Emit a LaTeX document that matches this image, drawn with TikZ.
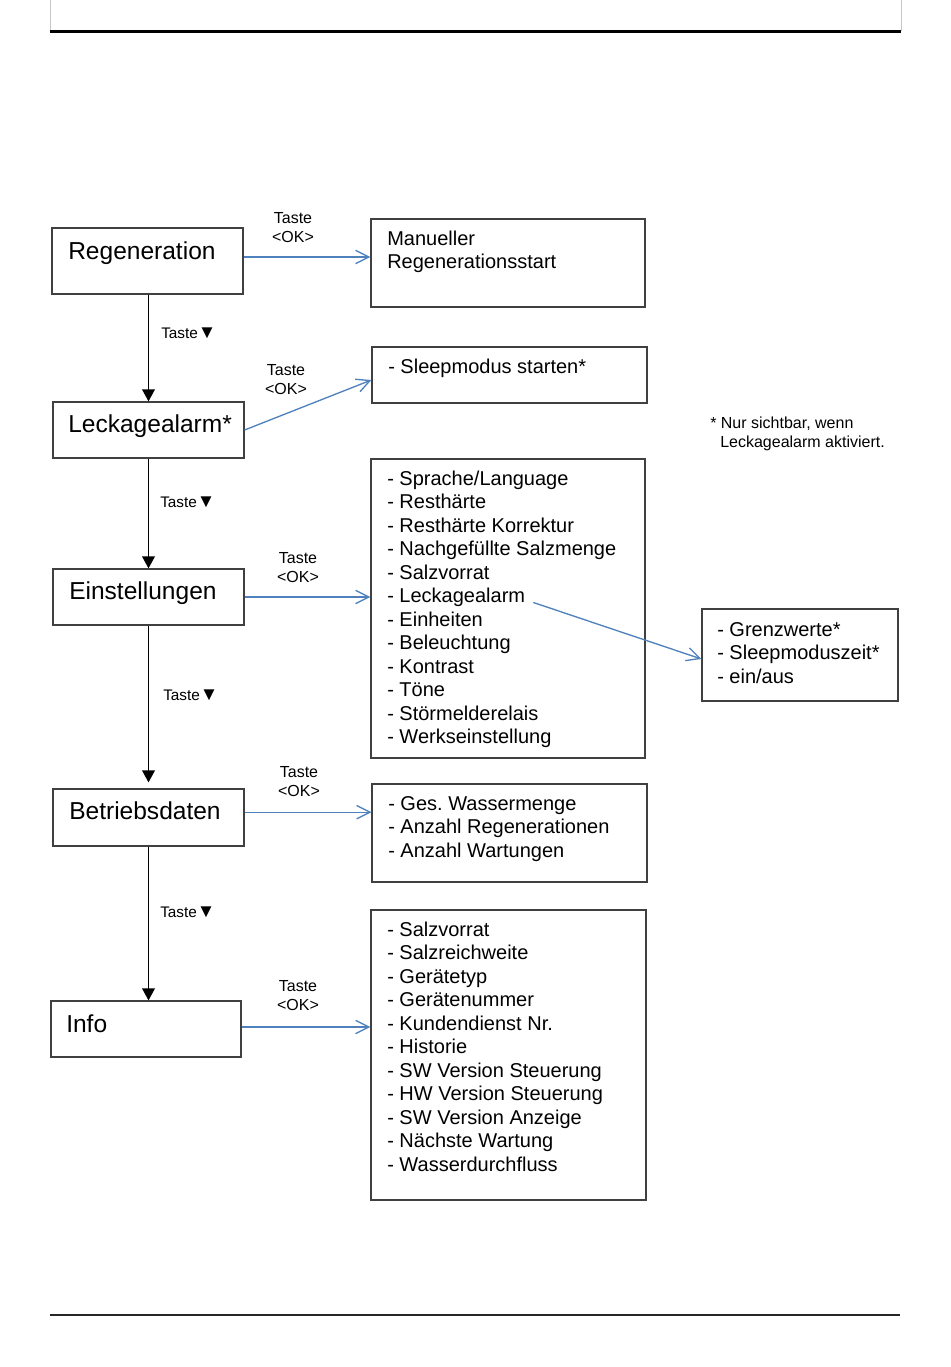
\documentclass[tikz,border=0pt]{standalone}
\usepackage{fontspec}
\setmainfont{Liberation Sans}
\usetikzlibrary{arrows.meta,fit}
\definecolor{okblue}{HTML}{4F81BD}
\definecolor{boxline}{HTML}{404040}
\frenchspacing
\newcommand\tastedown{Taste{\fontsize{14pt}{14pt}\selectfont▼}}
\begin{document}
\begin{tikzpicture}[x=0.75pt,y=-0.75pt,
  box/.style={draw=boxline, line width=0.9pt, inner sep=0pt},
  title/.style={anchor=base west, inner sep=0pt, font=\fontsize{18.4pt}{22pt}\selectfont},
  item/.style={anchor=base west, inner sep=0pt, font=\fontsize{15pt}{18pt}\selectfont},
  tdown/.style={anchor=base west, inner sep=0pt, font=\fontsize{11.5pt}{13pt}\selectfont},
  tok/.style={align=center, inner sep=0pt, font=\fontsize{12pt}{14.25pt}\selectfont},
  note/.style={anchor=base west, inner sep=0pt, font=\fontsize{12pt}{14pt}\selectfont},
  down/.style={draw=black, line width=1.1pt, -{Triangle[width=9.5pt,length=9pt]}},
  okarrow/.style={draw=okblue, line width=1pt, -{Straight Barb[length=10pt,width=10pt,line width=1pt]}}
]
\useasboundingbox (0,0) rectangle (950,1367);

% header / footer
\draw[gray!45, line width=0.5pt] (50,-2) -- (50,31) (901,-2) -- (901,31);
\draw[line width=2.2pt] (50,31.5) -- (901,31.5);
\draw[black!85, line width=1.6pt] (50,1315) -- (900,1315);

% left boxes
\node[box, fit={(52,228) (243,294)}] (reg) {};
\node[box, fit={(53,402) (244,458)}] (leck) {};
\node[box, fit={(53,569) (244,625)}] (einst) {};
\node[box, fit={(53,789) (244,846)}] (betr) {};
\node[box, fit={(51,1001) (241,1057)}] (info) {};

\node[title] (treg) at (68,259) {Regeneration};
\node[title] (tleck) at (68,432) {Leckagealarm*};
\node[title] (teinst) at (69,599) {Einstellungen};
\node[title] (tbetr) at (69,819) {Betriebsdaten};
\node[title] (tinfo) at (66,1032) {Info};

% right boxes
\node[box, fit={(371,219) (645,307)}] (man) {};
\node[box, fit={(372,347) (647,403)}] (sleep) {};
\node[box, fit={(371,459) (645,758)}] (elist) {};
\node[box, fit={(702,609) (898,701)}] (grenz) {};
\node[box, fit={(372,784) (647,882)}] (blist) {};
\node[box, fit={(371,910) (646,1200)}] (ilist) {};

\node[item] (m1) at (387,245.5) {Manueller};
\node[item] (m2) at (387,268.5) {Regenerationsstart};
\node[item] (s1) at (388,373.5) {- Sleepmodus starten*};

\foreach \t [count=\i] in {Sprache/Language,Resthärte,Resthärte Korrektur,Nachgefüllte Salzmenge,Salzvorrat,Leckagealarm,Einheiten,Beleuchtung,Kontrast,Töne,Störmelderelais,Werkseinstellung}
  \node[item] (e\i) at (387,{485+(\i-1)*23.5}) {- \t};

\foreach \t [count=\i] in {Grenzwerte*,Sleepmoduszeit*,ein/aus}
  \node[item] (g\i) at (717,{636+(\i-1)*23.5}) {- \t};

\foreach \t [count=\i] in {Ges. Wassermenge,Anzahl Regenerationen,Anzahl Wartungen}
  \node[item] (b\i) at (388,{810+(\i-1)*23.5}) {- \t};

\foreach \t [count=\i] in {Salzvorrat,Salzreichweite,Gerätetyp,Gerätenummer,Kundendienst Nr.,Historie,SW Version Steuerung,HW Version Steuerung,SW Version Anzeige,Nächste Wartung,Wasserdurchfluss}
  \node[item] (i\i) at (387,{936+(\i-1)*23.5}) {- \t};

% footnote
\node[note] (fn1) at (710,428) {* Nur sichtbar, wenn};
\node[note] (fn2) at (720,447) {Leckagealarm aktiviert.};

% black arrows
\draw[down] (reg.south -| leck.north) -- (leck.north);
\draw[down] (einst.north |- leck.south) -- (einst.north);
\draw[down, shorten >=4.5pt] (betr.north |- einst.south) -- (betr.north);
\draw[down] (betr.south) -- (betr.south |- info.north);

\node[tdown] (td1) at (161,338) {\tastedown};
\node[tdown] (td2) at (160,507) {\tastedown};
\node[tdown] (td3) at (163,700) {\tastedown};
\node[tdown] (td4) at (160,917) {\tastedown};

% blue arrows
\draw[okarrow] ([yshift=3pt]reg.east) -- ([yshift=3pt]reg.east -| man.west);
\draw[okarrow] (leck.east) -- ([yshift=-3.75pt]sleep.west);
\draw[okarrow] (einst.east) -- (einst.east -| elist.west);
\draw[okarrow] ([yshift=4pt]betr.east) -- ([yshift=4pt]betr.east -| blist.west);
\draw[okarrow] ([yshift=1.5pt]info.east) -- ([yshift=1.5pt]info.east -| ilist.west);
\draw[okarrow] ([xshift=6pt]e6.base east) -- ([yshift=-3pt]grenz.west);

\node[tok] (k1) at (293,227.5) {Taste\\<OK>};
\node[tok] (k2) at (286,379.5) {Taste\\<OK>};
\node[tok] (k3) at (298,567.5) {Taste\\<OK>};
\node[tok] (k4) at (299,781.5) {Taste\\<OK>};
\node[tok] (k5) at (298,995.5) {Taste\\<OK>};
\end{tikzpicture}
\end{document}
